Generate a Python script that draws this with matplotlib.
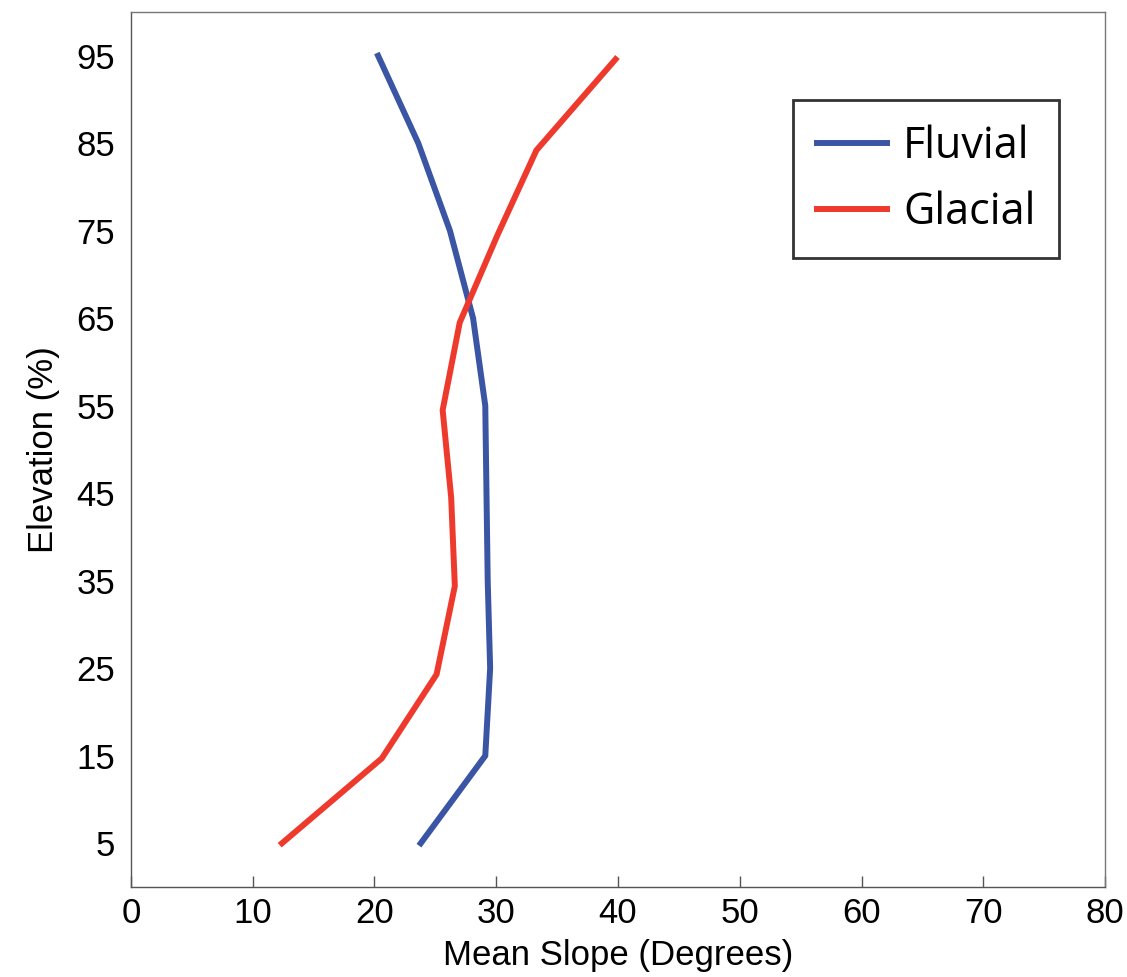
import matplotlib
matplotlib.use("Agg")
import matplotlib.pyplot as plt

# mean slope (degrees) vs relative elevation (%)
fluvial_elev = [95, 85, 75, 65, 55, 45, 35, 25, 15, 5]
fluvial_slope = [20.3, 23.6, 26.2, 28.1, 29.1, 29.2, 29.3, 29.5, 29.1, 23.8]

glacial_elev = [94.6, 84.2, 74.5, 64.5, 54.5, 44.5, 34.4, 24.3, 14.7, 5]
glacial_slope = [39.8, 33.3, 30.1, 27.0, 25.6, 26.3, 26.6, 25.1, 20.6, 12.4]

x_ticks = [0, 10, 20, 30, 40, 50, 60, 70, 80]
y_ticks = [5, 15, 25, 35, 45, 55, 65, 75, 85, 95]

plt.rcParams['font.family'] = ['Liberation Sans', 'DejaVu Sans']

fig = plt.figure(figsize=(11.27, 9.77), dpi=100)
ax = fig.add_axes([0.1162, 0.0921, 0.8643, 0.8956])

ax.plot(fluvial_slope, fluvial_elev, color='#3b55a5', lw=4.3, label='Fluvial',
        solid_joinstyle='miter')
ax.plot(glacial_slope, glacial_elev, color='#ee3a2d', lw=4.3, label='Glacial',
        solid_joinstyle='miter')

ax.set_xlim(0, 80)
ax.set_ylim(0, 100)
ax.set_xticks(x_ticks)
ax.set_yticks(y_ticks)
ax.tick_params(axis='x', direction='in', length=8, width=1, color='#555555',
               labelsize=25, pad=7)
ax.tick_params(axis='y', length=0, labelsize=25, pad=11.5)
for s in ax.spines.values():
    s.set_color('#777777')
    s.set_linewidth(1.0)
ax.spines['left'].set_color('#555555')
ax.spines['bottom'].set_color('#555555')

ax.set_xlabel('Mean Slope (Degrees)', fontsize=25, labelpad=7)
ax.set_ylabel('Elevation (%)', fontsize=25, labelpad=12)

leg = ax.legend(loc='upper right', bbox_to_anchor=(0.953, 0.899),
                borderaxespad=0, fancybox=False, frameon=True,
                prop={'family': 'Open Sans', 'size': 31},
                handlelength=1.63, handletextpad=0.37, labelspacing=0.5,
                borderpad=0.55)
leg.get_frame().set_edgecolor('black')
leg.get_frame().set_linewidth(2.0)

fig.savefig('out.png', dpi=100)
